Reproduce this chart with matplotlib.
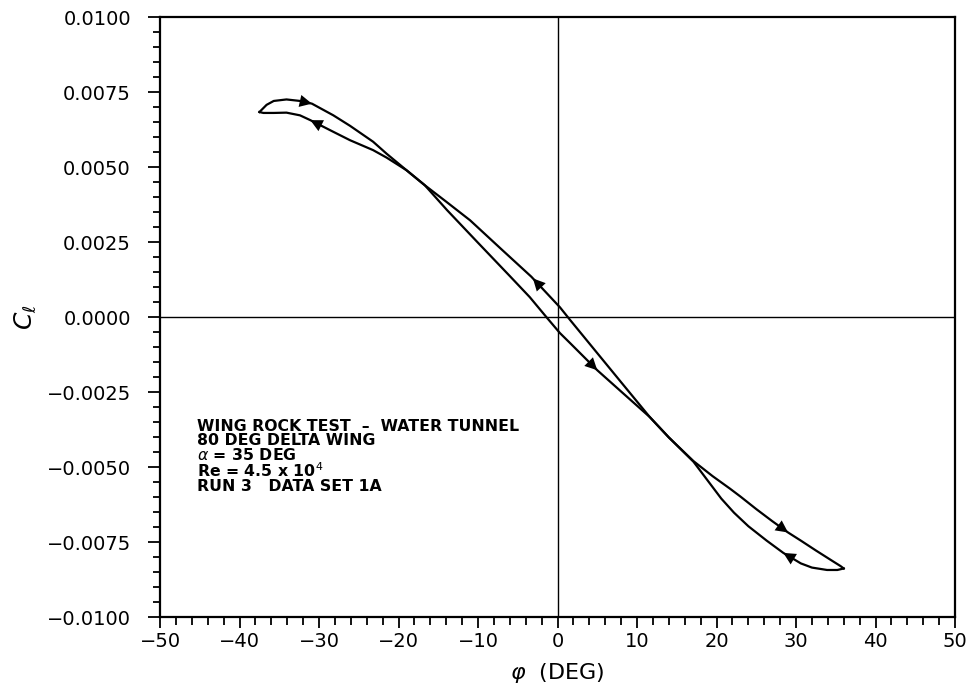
import numpy as np
import matplotlib
matplotlib.use("Agg")
import matplotlib.pyplot as plt
from matplotlib.ticker import MultipleLocator, FuncFormatter

# roll angle sweep with phi increasing (left tip -> right tip)
phi_up = [-37.5, -36.6, -35.7, -34.1, -32.4, -30.9, -28.2, -26.1, -23.2, -21.5,
          -19.0, -16.7, -13.9, -10.0, -6.0, -3.5, -1.3, 0.3, 1.6, 5.0, 8.0,
          11.6, 14.0, 17.1, 19.5, 21.7, 23.0, 25.0, 27.0, 29.0, 30.6, 32.5,
          34.7, 35.6, 36.0]
cl_up = [0.00684, 0.00708, 0.00721, 0.00726, 0.00721, 0.00712, 0.00673, 0.00638,
         0.00585, 0.00545, 0.00490, 0.00440, 0.00357, 0.00248, 0.00137, 0.00067,
         -0.00003, -0.00053, -0.00087, -0.00177, -0.00248, -0.00333, -0.00401,
         -0.00480, -0.00530, -0.00572, -0.00598, -0.00640, -0.00680, -0.00718,
         -0.00745, -0.00778, -0.00815, -0.00830, -0.00838]

# roll angle sweep with phi decreasing (right tip -> left tip)
phi_down = [36.0, 35.2, 33.9, 32.0, 30.6, 28.4, 26.3, 24.0, 22.2, 20.6, 17.1,
            14.0, 11.6, 8.0, 5.0, 1.6, 0.3, -3.3, -7.0, -11.0, -14.0, -16.7,
            -19.0, -21.5, -23.2, -26.1, -28.2, -31.1, -32.4, -34.1, -35.7,
            -37.0, -37.5]
cl_down = [-0.00838, -0.00843, -0.00843, -0.00835, -0.00821, -0.00786, -0.00745,
           -0.00697, -0.00652, -0.00605, -0.00482, -0.00401, -0.00333, -0.00217,
           -0.00120, -0.00010, 0.00033, 0.00135, 0.00225, 0.00323, 0.00385,
           0.00440, 0.00490, 0.00532, 0.00557, 0.00590, 0.00618, 0.00657,
           0.00673, 0.00682, 0.00681, 0.00681, 0.00684]

# where the direction arrows sit on each branch
arrow_phi_up = [-30.9, 5.0, 29.0]
arrow_phi_down = [-31.1, -3.1, 28.4]

info_lines = [
    "WING ROCK TEST  –  WATER TUNNEL",
    "80 DEG DELTA WING",
    r"$\alpha$ = 35 DEG",
    r"Re = 4.5 x 10$^{4}$",
    "RUN 3   DATA SET 1A",
]

plt.rcParams["font.family"] = ["DejaVu Sans"]
plt.rcParams["mathtext.fontset"] = "dejavusans"

fig = plt.figure(figsize=(9.76, 6.91), dpi=100)
ax = fig.add_axes([0.164, 0.107, 0.8145, 0.868])

ax.axhline(0, color="black", lw=1.0, zorder=1)
ax.axvline(0, color="black", lw=1.0, zorder=1)

ax.plot(phi_up, cl_up, color="black", lw=1.6, solid_joinstyle="round", zorder=3)
ax.plot(phi_down, cl_down, color="black", lw=1.6, solid_joinstyle="round", zorder=3)


def add_arrows(phis, xs, ys, step):
    # np.interp needs increasing x
    order = np.argsort(xs)
    xs_s = np.asarray(xs)[order]
    ys_s = np.asarray(ys)[order]
    for p in phis:
        head = (p, np.interp(p, xs_s, ys_s))
        tail = (p - step, np.interp(p - step, xs_s, ys_s))
        ax.annotate("", xy=head, xytext=tail,
                    arrowprops=dict(arrowstyle="-|>", color="black", lw=0,
                                    mutation_scale=22, shrinkA=0, shrinkB=0),
                    zorder=4)


add_arrows(arrow_phi_up, phi_up, cl_up, 0.8)
add_arrows(arrow_phi_down, phi_down, cl_down, -0.8)

ax.set_xlim(-50, 50)
ax.set_ylim(-0.01, 0.01)
ax.xaxis.set_major_locator(MultipleLocator(10))
ax.xaxis.set_minor_locator(MultipleLocator(2))
ax.yaxis.set_major_locator(MultipleLocator(0.0025))
ax.yaxis.set_minor_locator(MultipleLocator(0.0005))
ax.yaxis.set_major_formatter(FuncFormatter(lambda v, _: f"{v:.4f}".replace("-", "−")))
ax.xaxis.set_major_formatter(FuncFormatter(lambda v, _: f"{v:.0f}".replace("-", "−")))

ax.tick_params(axis="both", which="both", direction="out", width=1.3,
               top=False, right=False, labelsize=14, colors="black")
ax.tick_params(axis="y", which="major", length=9, pad=12)
ax.tick_params(axis="y", which="minor", length=5)
ax.tick_params(axis="x", which="major", length=8, pad=3)
ax.tick_params(axis="x", which="minor", length=6)

for s in ax.spines.values():
    s.set_linewidth(1.6)

ax.set_xlabel(r"$\varphi$  (DEG)", fontsize=16, labelpad=7)
ax.set_ylabel(r"$C_\ell$", fontsize=18, labelpad=6)

ax.text(-45.3, -0.00338, "\n".join(info_lines), fontsize=11.3, fontweight="bold",
        va="top", ha="left", linespacing=0.92)

fig.savefig("out.png", dpi=100)
